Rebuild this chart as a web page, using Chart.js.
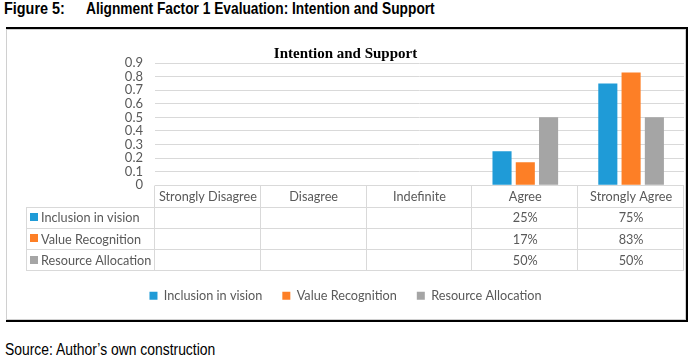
<!DOCTYPE html>
<html>
<head>
<meta charset="utf-8">
<script src="https://cdn.jsdelivr.net/npm/chart.js@4"></script>
<style>
  body { margin: 0; background: #fff; width: 695px; height: 363px; position: relative; overflow: hidden; }
  .cap { position: absolute; font-family: "Liberation Sans", Arial, sans-serif; color: #000; white-space: nowrap; transform-origin: left top; }
  #fig { left: 4px; top: -1px; font-size: 17px; font-weight: bold; }
  #figTitle { left: 86px; top: -1px; font-size: 17px; font-weight: bold; }
  #src { left: 5px; top: 341px; font-size: 16px; }
  #outer { position: absolute; left: 6px; top: 27px; width: 682px; height: 295px; box-sizing: border-box;
           border-top: 2px solid #000; border-right: 2px solid #000; border-bottom: 2px solid #000; }
  #inner { position: absolute; left: 6px; top: 29px; width: 680px; height: 291px; box-sizing: border-box; border: 1px solid #d0d0d0; }
  canvas { position: absolute; left: 7px; top: 30px; }
</style>
</head>
<body>
<div class="cap" id="fig">Figure 5:</div>
<div class="cap" id="figTitle">Alignment Factor 1 Evaluation: Intention and Support</div>
<div id="outer"></div>
<div id="inner"></div>
<canvas id="chart" width="678" height="289"></canvas>
<div class="cap" id="src">Source: Author’s own construction</div>
<script>
var categories = ['Strongly Disagree', 'Disagree', 'Indefinite', 'Agree', 'Strongly Agree'];
var seriesNames = ['Inclusion in vision', 'Value Recognition', 'Resource Allocation'];
var inclusionInVision = [null, null, null, 0.25, 0.75];
var valueRecognition = [null, null, null, 0.17, 0.83];
var resourceAllocation = [null, null, null, 0.50, 0.50];
var yTicks = [0, 0.1, 0.2, 0.3, 0.4, 0.5, 0.6, 0.7, 0.8, 0.9];
var colors = ['#1f9bd7', '#fd7f26', '#a5a5a5'];

var textGrey = '#595959';
var lineGrey = '#d9d9d9';
var bodyFont = 'Lato, "Open Sans", sans-serif';

// squeeze the caption text like the reference
function squeeze(id, width) {
  var el = document.getElementById(id);
  el.style.transform = 'scaleX(' + (width / el.offsetWidth) + ')';
}
squeeze('fig', 61);
squeeze('figTitle', 349);
squeeze('src', 210);

// data table under the plot
var dataTable = {
  id: 'dataTable',
  afterDraw: function(chart) {
    var c = chart.ctx;
    var area = chart.chartArea;
    var n = categories.length;
    var colW = (area.right - area.left) / n;
    var rowH = 21.25;
    var top = area.bottom;
    var tableLeft = 19;
    var bottom = top + rowH * 4;
    c.save();
    c.strokeStyle = lineGrey;
    c.lineWidth = 1;
    c.beginPath();
    // horizontal lines
    c.moveTo(area.left, Math.round(top) + 0.5);
    c.lineTo(area.right, Math.round(top) + 0.5);
    for (var r = 1; r <= 4; r++) {
      var y = Math.round(top + rowH * r) + 0.5;
      c.moveTo(tableLeft, y);
      c.lineTo(area.right, y);
    }
    // vertical lines
    c.moveTo(tableLeft + 0.5, Math.round(top + rowH) + 0.5);
    c.lineTo(tableLeft + 0.5, Math.round(bottom) + 0.5);
    for (var i = 0; i <= n; i++) {
      var x = Math.round(area.left + colW * i) - 0.5;
      c.moveTo(x, Math.round(top) + 0.5);
      c.lineTo(x, Math.round(bottom) + 0.5);
    }
    c.stroke();

    c.font = '12.7px ' + bodyFont;
    c.fillStyle = textGrey;
    c.textBaseline = 'middle';
    c.textAlign = 'center';
    categories.forEach(function(cat, i) {
      c.fillText(cat, area.left + colW * (i + 0.5), top + rowH / 2 + 1);
    });
    chart.data.datasets.forEach(function(ds, s) {
      var cy = top + rowH * (s + 1.5) + 1;
      c.fillStyle = ds.backgroundColor;
      c.fillRect(tableLeft + 4, Math.round(cy) - 5, 8, 8);
      c.fillStyle = textGrey;
      c.textAlign = 'left';
      c.fillText(ds.label, tableLeft + 15, cy);
      c.textAlign = 'center';
      ds.data.forEach(function(v, i) {
        if (v !== null) {
          c.fillText(Math.round(v * 100) + '%', area.left + colW * (i + 0.5), cy);
        }
      });
    });
    c.restore();
  }
};

var ctx = document.getElementById('chart').getContext('2d');
var myChart = new Chart(ctx, {
  type: 'bar',
  data: {
    labels: categories,
    datasets: [
      { label: seriesNames[0], data: inclusionInVision, backgroundColor: colors[0] },
      { label: seriesNames[1], data: valueRecognition, backgroundColor: colors[1] },
      { label: seriesNames[2], data: resourceAllocation, backgroundColor: colors[2] }
    ]
  },
  options: {
    responsive: false,
    animation: false,
    devicePixelRatio: 1,
    layout: { padding: { top: 0, right: 1, bottom: 7, left: 0 } },
    datasets: { bar: { categoryPercentage: 0.66, barPercentage: 0.82, borderWidth: 0 } },
    scales: {
      x: {
        grid: { display: false },
        border: { display: false },
        ticks: { display: false },
        afterFit: function(scale) { scale.height = 84; }
      },
      y: {
        min: 0,
        max: 0.9,
        afterBuildTicks: function(scale) { scale.ticks = yTicks.map(function(v) { return { value: v }; }); },
        grid: { color: lineGrey, drawTicks: false },
        border: { display: false },
        ticks: {
          autoSkip: false,
          padding: 12,
          color: textGrey,
          font: { family: bodyFont, size: 13 },
          callback: function(v) { return String(Math.round(v * 10) / 10); }
        },
        afterFit: function(scale) { scale.width = 148; }
      }
    },
    plugins: {
      title: {
        display: true,
        text: 'Intention and Support',
        color: '#000',
        font: { family: '"Liberation Serif", "Times New Roman", serif', size: 15, weight: 'bold' },
        padding: { top: 15, bottom: 0 }
      },
      legend: {
        position: 'bottom',
        labels: {
          boxWidth: 8,
          boxHeight: 8,
          padding: 20,
          color: textGrey,
          font: { family: bodyFont, size: 12.7 }
        }
      },
      tooltip: { enabled: false }
    }
  },
  plugins: [dataTable]
});
</script>
</body>
</html>
